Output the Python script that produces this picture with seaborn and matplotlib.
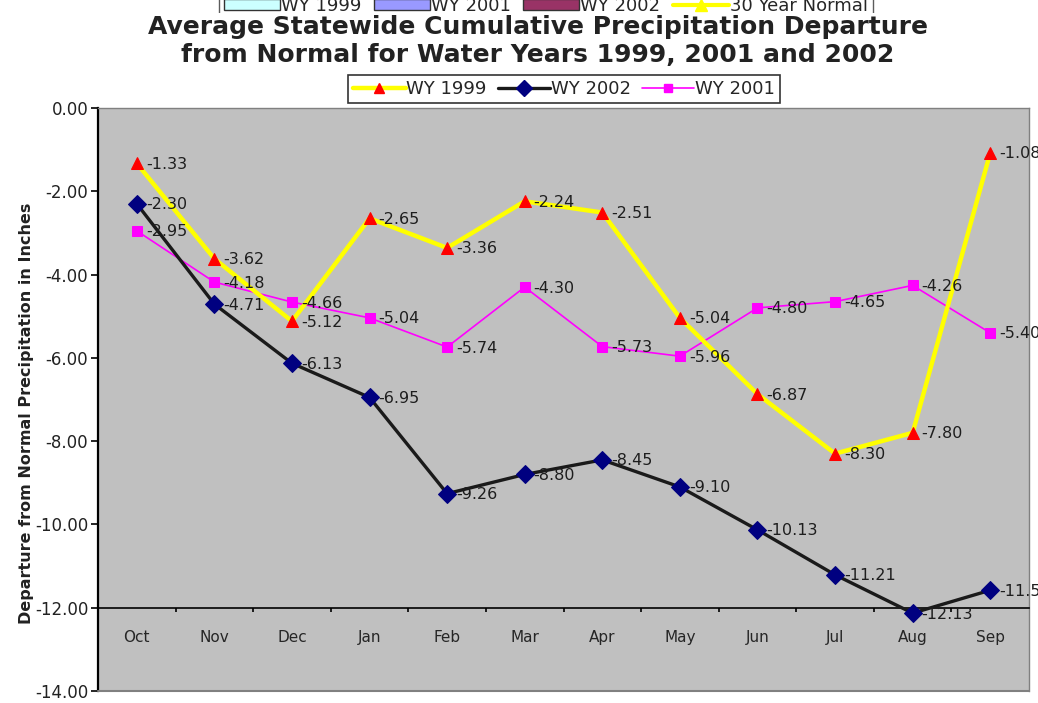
import matplotlib
matplotlib.use("Agg")
import matplotlib.pyplot as plt
import seaborn as sns
import pandas as pd
from matplotlib.lines import Line2D
from matplotlib.patches import Patch, Rectangle

months = ["Oct", "Nov", "Dec", "Jan", "Feb", "Mar", "Apr", "May", "Jun", "Jul", "Aug", "Sep"]
wy1999 = [-1.33, -3.62, -5.12, -2.65, -3.36, -2.24, -2.51, -5.04, -6.87, -8.30, -7.80, -1.08]
wy2002 = [-2.30, -4.71, -6.13, -6.95, -9.26, -8.80, -8.45, -9.10, -10.13, -11.21, -12.13, -11.58]
wy2001 = [-2.95, -4.18, -4.66, -5.04, -5.74, -4.30, -5.73, -5.96, -4.80, -4.65, -4.26, -5.40]
y_ticks = [0, -2, -4, -6, -8, -10, -12, -14]

sns.set_theme(style="white")
plt.rcParams['font.family'] = ['DejaVu Sans']

W, H = 1038, 703
fig = plt.figure(figsize=(W / 100, H / 100), dpi=100)
fig.patch.set_facecolor("white")
ax = fig.add_axes([98 / W, 1 - 691 / H, (1029 - 98) / W, (691 - 108) / H])
ax.set_facecolor("#C0C0C0")

df = pd.DataFrame({"Month": months, "WY 1999": wy1999, "WY 2002": wy2002, "WY 2001": wy2001})

styles = {
    "WY 1999": dict(color="#FFFF00", lw=3.2, marker="^", ms=8, mfc="#FF0000", mec="#FF0000"),
    "WY 2002": dict(color="#1A1A1A", lw=2.4, marker="D", ms=9, mfc="#000080", mec="#000080"),
    "WY 2001": dict(color="#FF00FF", lw=1.2, marker="s", ms=6.5, mfc="#FF00FF", mec="#FF00FF"),
}
for name in ["WY 2001", "WY 2002", "WY 1999"]:
    st = styles[name]
    sns.lineplot(data=df, x="Month", y=name, ax=ax, sort=False, color=st["color"], lw=st["lw"],
                 marker=st["marker"], markersize=st["ms"], markerfacecolor=st["mfc"],
                 markeredgecolor=st["mec"], legend=False, zorder=3)

for name in ["WY 1999", "WY 2002", "WY 2001"]:
    for i, v in enumerate(df[name]):
        ax.annotate(f"{v:.2f}", (i, v), xytext=(9, -1), textcoords="offset pixels",
                    ha="left", va="center", fontsize=11.5, color="#1E1E1E",
                    annotation_clip=False, zorder=4)

ax.set_xlim(-0.5, 11.5)
ax.set_ylim(-14, 0)
ax.set_yticks(y_ticks)
ax.set_yticklabels([f"{t:.2f}" for t in y_ticks], fontsize=12, color="#222222")
ax.tick_params(axis="y", direction="out", length=5, width=1.2, color="black", left=True, pad=2)

ax.set_xticks([i + 0.5 for i in range(11)])
ax.set_xticklabels([])
ax.set_xticks(range(12), minor=True)
ax.set_xticklabels(months, minor=True, fontsize=12, color="#222222")
ax.tick_params(axis="x", which="major", direction="out", length=3, width=1.2, color="black", bottom=True)
ax.tick_params(axis="x", which="minor", length=0, pad=16)

ax.set_xlabel("")
ax.set_ylabel("")
for s in ["top", "right"]:
    ax.spines[s].set_color("#808080")
    ax.spines[s].set_linewidth(1.0)
ax.spines["left"].set_color("black")
ax.spines["left"].set_linewidth(1.6)
ax.spines["bottom"].set_position(("data", -12))
ax.spines["bottom"].set_color("black")
ax.spines["bottom"].set_linewidth(1.2)
ax.axhline(-14, color="#808080", lw=1.5, zorder=5, clip_on=False)

fig.text(27 / W, 1 - 413 / H, "Departure from Normal Precipitation in Inches", rotation=90,
         ha="center", va="center", fontsize=11.5, fontweight="bold", color="#222222")

# top (cut-off) legend
top_handles = [Patch(facecolor="#CCFFFF", edgecolor="#333333"),
               Patch(facecolor="#9999FF", edgecolor="#333333"),
               Patch(facecolor="#993366", edgecolor="#333333"),
               Line2D([], [], color="#FFFF00", lw=3, marker="^", markersize=8,
                      markerfacecolor="#FFFF00", markeredgecolor="#FFFF00")]
leg2 = fig.legend(top_handles, ["WY 1999", "WY 2001", "WY 2002", "30 Year Normal"], loc="center",
                  bbox_to_anchor=(546 / W, 1 - 6 / H), ncol=4, fontsize=13, frameon=True,
                  fancybox=False, edgecolor="#333333", handlelength=3.1, handleheight=0.55,
                  handletextpad=0.05, columnspacing=0.7, borderpad=0.3, borderaxespad=0)
leg2.get_frame().set_linewidth(1.0)
leg2.set_zorder(4)
# white band hiding the lower part of the cut-off legend
fig.add_artist(Rectangle((150 / W, 1 - 60 / H), 750 / W, 47 / H, transform=fig.transFigure,
                         facecolor="white", edgecolor="none", zorder=6))

fig.text(538 / W, 1 - 41 / H,
         "Average Statewide Cumulative Precipitation Departure\nfrom Normal for Water Years 1999, 2001 and 2002",
         ha="center", va="center", fontsize=18, fontweight="bold", color="#222222",
         linespacing=1.2, zorder=7)

handles = [Line2D([], [], color=styles[n]["color"], lw=styles[n]["lw"],
                  marker=styles[n]["marker"], markersize=styles[n]["ms"] * 0.9,
                  markerfacecolor=styles[n]["mfc"], markeredgecolor=styles[n]["mec"])
           for n in ["WY 1999", "WY 2002", "WY 2001"]]
leg = fig.legend(handles, ["WY 1999", "WY 2002", "WY 2001"], loc="center",
                 bbox_to_anchor=(564 / W, 1 - 89 / H), ncol=3, fontsize=13, frameon=True,
                 fancybox=False, edgecolor="black", handlelength=2.9, handletextpad=0.05,
                 columnspacing=0.6, borderpad=0.3, borderaxespad=0)
leg.get_frame().set_linewidth(1.2)
leg.set_zorder(8)

fig.savefig("out.png", dpi=100, facecolor="white")
